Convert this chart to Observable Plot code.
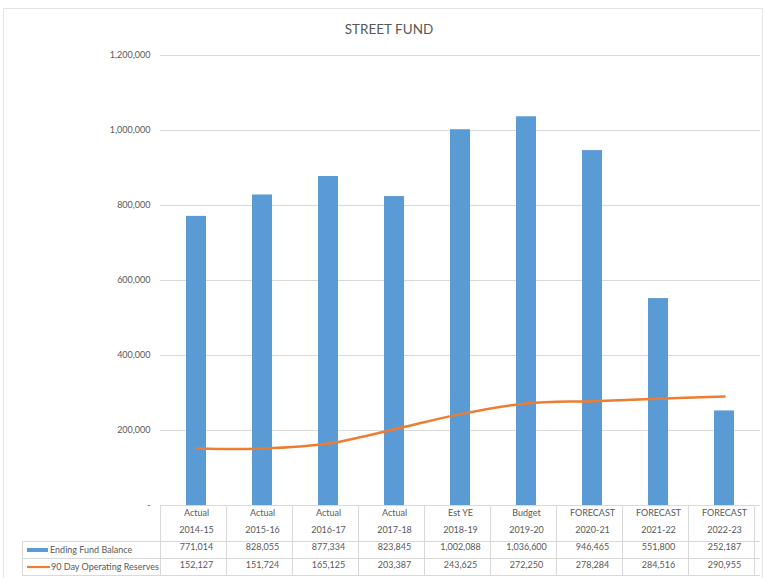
<!DOCTYPE html>
<html>
<head>
<meta charset="utf-8">
<script src="https://cdn.jsdelivr.net/npm/d3@7"></script>
<script src="https://cdn.jsdelivr.net/npm/@observablehq/plot@0.6"></script>
<style>
  html, body { margin: 0; padding: 0; background: #fff; }
  #wrap { position: relative; width: 766px; height: 578px; overflow: hidden; font-family: Lato, "Open Sans", sans-serif; }
  #frame { position: absolute; left: 3px; top: 8px; width: 760px; height: 580px; border: 1px solid #e3e3e3; box-sizing: border-box; }
  #title { position: absolute; left: 0; width: 778px; top: 21px; text-align: center; font-size: 13.5px; color: #595959; }
  #chart { position: absolute; left: 0; top: 0; }
</style>
</head>
<body>
<div id="wrap">
  <div id="frame"></div>
  <div id="chart"></div>
  <div id="title">STREET FUND</div>
</div>
<script>
const periodTypes = ["Actual", "Actual", "Actual", "Actual", "Est YE", "Budget", "FORECAST", "FORECAST", "FORECAST"];
const years = ["2014-15", "2015-16", "2016-17", "2017-18", "2018-19", "2019-20", "2020-21", "2021-22", "2022-23"];
const endingFundBalance = [771014, 828055, 877334, 823845, 1002088, 1036600, 946465, 551800, 252187];
const operatingReserves = [152127, 151724, 165125, 203387, 243625, 272250, 278284, 284516, 290955];
const yTicks = [0, 200000, 400000, 600000, 800000, 1000000, 1200000];
const seriesNames = ["Ending Fund Balance", "90 Day Operating Reserves"];
const colors = ["#5B9BD5", "#ED7D31"];

const data = years.map((y, i) => ({
  key: y,
  type: periodTypes[i],
  year: y,
  balance: endingFundBalance[i],
  reserves: operatingReserves[i]
}));

const fmt = d3.format(",");
const textColor = "#595959";
const fontSize = 9;

const plot = Plot.plot({
  width: 766,
  height: 578,
  marginLeft: 160,
  marginRight: 6,
  marginTop: 55,
  marginBottom: 73,
  style: { fontFamily: "Lato, 'Open Sans', sans-serif", background: "transparent", color: textColor, overflow: "visible" },
  x: { domain: years, padding: 0, axis: null },
  y: { domain: [0, 1200000], ticks: yTicks, axis: null },
  marks: [
    Plot.gridY(yTicks.filter(d => d > 0), { stroke: "#d9d9d9", strokeOpacity: 1 }),
    Plot.axisY(yTicks, {
      tickSize: 0, tickPadding: 10, fontSize: fontSize, fill: textColor,
      tickFormat: d => d === 0 ? "-" : fmt(d)
    }),
    Plot.barY(data, { x: "key", y: "balance", fill: colors[0], insetLeft: 23, insetRight: 23 }),
    Plot.line(data, { x: "key", y: "reserves", stroke: colors[1], strokeWidth: 2.5, curve: "catmull-rom" }),
    // table text rows
    Plot.text(data, { x: "key", text: "type", frameAnchor: "bottom", dy: 10, fontSize: fontSize, fill: textColor }),
    Plot.text(data, { x: "key", text: "year", frameAnchor: "bottom", dy: 27, fontSize: fontSize, fill: textColor }),
    Plot.text(data, { x: "key", text: d => fmt(d.balance), frameAnchor: "bottom", dy: 44, fontSize: fontSize, fill: textColor }),
    Plot.text(data, { x: "key", text: d => fmt(d.reserves), frameAnchor: "bottom", dy: 62, fontSize: fontSize, fill: textColor })
  ]
});

document.getElementById("chart").appendChild(plot);

// Table grid and legend, positioned from the plot's x scale
const xs = plot.scale("x");
const svg = d3.select(plot);
const [x0, x1] = xs.range;
const step = xs.step;
const yTop = 505, yRow2 = 541, yRow3 = 558, yBot = 575, xLeft = 22;
const g = svg.append("g").attr("stroke", "#d9d9d9").attr("stroke-width", 1).attr("fill", "none");
g.append("line").attr("x1", x0).attr("x2", x1).attr("y1", yTop + 0.5).attr("y2", yTop + 0.5);
[yRow2, yRow3, yBot].forEach(y => g.append("line").attr("x1", xLeft).attr("x2", x1).attr("y1", y + 0.5).attr("y2", y + 0.5));
g.append("line").attr("x1", xLeft + 0.5).attr("x2", xLeft + 0.5).attr("y1", yRow2).attr("y2", yBot);
for (let i = 0; i <= years.length; i++) {
  const x = Math.round(x0 + i * step) + 0.5;
  g.append("line").attr("x1", x).attr("x2", x).attr("y1", yTop).attr("y2", yBot);
}
// legend swatches and labels
const lg = svg.append("g").attr("font-size", fontSize).attr("fill", textColor).attr("text-anchor", "start");
lg.append("rect").attr("x", 27).attr("y", (yRow2 + yRow3) / 2 - 1.5).attr("width", 21).attr("height", 4).attr("fill", colors[0]);
lg.append("line").attr("x1", 27).attr("x2", 50).attr("y1", (yRow3 + yBot) / 2 + 0.5).attr("y2", (yRow3 + yBot) / 2 + 0.5)
  .attr("stroke", colors[1]).attr("stroke-width", 2.2);
lg.append("text").attr("x", 50).attr("y", (yRow2 + yRow3) / 2 + 0.5).attr("dy", "0.32em").attr("text-anchor", "start").text(seriesNames[0]);
lg.append("text").attr("x", 51).attr("y", (yRow3 + yBot) / 2 + 0.5).attr("dy", "0.32em").attr("text-anchor", "start").text(seriesNames[1]);
</script>
</body>
</html>
